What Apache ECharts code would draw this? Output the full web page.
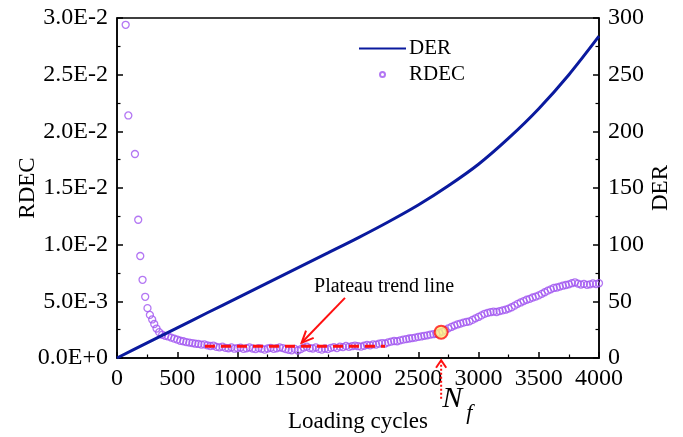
<!DOCTYPE html>
<html>
<head>
<meta charset="utf-8">
<script src="https://cdn.jsdelivr.net/npm/echarts@6/dist/echarts.min.js"></script>
<style>
html, body { margin: 0; padding: 0; background: #fff; }
#chart { width: 683px; height: 437px; }
</style>
</head>
<body>
<div id="chart"></div>
<script>
// Damage evolution rate (DER) curve, sampled along the loading history
const derCycles = [0, 250, 500, 750, 1000, 1250, 1500, 1750, 2000, 2250, 2500, 2750, 3000, 3250, 3500, 3750, 4000];
const derValues = [0, 13.3, 26.6, 39.9, 53.1, 66.3, 79.5, 92.7, 106, 120, 135, 152, 171, 194, 220, 250, 284];

// Rate of dissipated energy change (RDEC) measurements
const rdecCycles = [72, 94, 149, 176, 193, 212, 234, 253, 273, 292, 309, 328,
  350, 375, 400, 425, 450, 475, 500, 525, 550, 575, 600, 625, 650, 675, 700, 725,
  750, 775, 800, 825, 850, 875, 900, 925, 950, 975, 1000, 1025, 1050, 1075, 1100, 1125,
  1150, 1175, 1200, 1225, 1250, 1275, 1300, 1325, 1350, 1375, 1400, 1425, 1450, 1475,
  1500, 1525, 1550, 1575, 1600, 1625, 1650, 1675, 1700, 1725, 1750, 1775, 1800, 1825,
  1850, 1875, 1900, 1925, 1950, 1975, 2000, 2025, 2050, 2075, 2100, 2125, 2150, 2175,
  2200, 2225, 2250, 2275, 2300, 2325, 2350, 2375, 2400, 2425, 2450, 2475, 2500, 2525,
  2550, 2575, 2600, 2625, 2650, 2675, 2700, 2725, 2750, 2775, 2800, 2825, 2850, 2875,
  2900, 2925, 2950, 2975, 3000, 3025, 3050, 3075, 3100, 3125, 3150, 3175, 3200, 3225,
  3250, 3275, 3300, 3325, 3350, 3375, 3400, 3425, 3450, 3475, 3500, 3525, 3550, 3575,
  3600, 3625, 3650, 3675, 3700, 3725, 3750, 3775, 3800, 3825, 3850, 3875, 3900, 3925,
  3950, 3975, 4000];
const rdecValues = [0.0294, 0.0214, 0.0180, 0.0122, 0.0090, 0.0069, 0.0054, 0.0044, 0.0038, 0.0034, 0.0030, 0.0026,
  0.00228, 0.00205, 0.00196, 0.00190, 0.00180, 0.00171, 0.00163, 0.00152, 0.00148, 0.00140, 0.00136, 0.00132, 0.00126, 0.00124, 0.00118, 0.00120,
  0.00112, 0.00106, 0.00110, 0.00098, 0.00094, 0.00100, 0.00090, 0.00086, 0.00094, 0.00082, 0.00088, 0.00092, 0.00080, 0.00086, 0.00094, 0.00084,
  0.00078, 0.00088, 0.00082, 0.00074, 0.00084, 0.00090, 0.00080, 0.00086, 0.00094, 0.00088, 0.00078, 0.00072, 0.00068, 0.00080,
  0.00066, 0.00078, 0.00092, 0.00100, 0.00088, 0.00084, 0.00094, 0.00080, 0.00074, 0.00084, 0.00078, 0.00090, 0.00096, 0.00088,
  0.00100, 0.00096, 0.00106, 0.00098, 0.00104, 0.00110, 0.00104, 0.00100, 0.00108, 0.00116, 0.00112, 0.00120, 0.00118, 0.00126,
  0.00132, 0.00128, 0.00138, 0.00144, 0.00150, 0.00148, 0.00156, 0.00162, 0.00166, 0.00172, 0.00176, 0.00180, 0.00186, 0.00190,
  0.00196, 0.00200, 0.00206, 0.00210, 0.00214, 0.00222, 0.00232, 0.00246, 0.00262, 0.00274, 0.00286, 0.00296, 0.00304, 0.00312,
  0.00318, 0.00324, 0.00336, 0.00350, 0.00362, 0.00376, 0.00390, 0.00398, 0.00404, 0.00410, 0.00406, 0.00414, 0.00420, 0.00426,
  0.00436, 0.00448, 0.00462, 0.00478, 0.00490, 0.00502, 0.00514, 0.00522, 0.00534, 0.00542, 0.00552, 0.00566, 0.00580, 0.00594,
  0.00606, 0.00618, 0.00622, 0.00630, 0.00638, 0.00644, 0.00650, 0.00660, 0.00668, 0.00656, 0.00648, 0.00654, 0.00646, 0.00650,
  0.00658, 0.00652, 0.00660];

// Plateau trend line and the fatigue-life point N_f
const plateauCycles = [730, 2224];
const plateauLevels = [0.00104, 0.00104];
const failureCycle = 2690;
const failureRdec = 0.00228;

// Annotation anchors (data space)
const plateauArrowFrom = [1892, 0.00531];
const plateauArrowTo = [1532, 0.00134];
const plateauLabelAt = [2216, 0.00631];
const failureArrowFrom = -0.0036;
const failureArrowTo = -0.0002;

const FONT = '"Liberation Serif", "Times New Roman", serif';
const RED = '#ff1010';
const PURPLE = '#a055f0';
const NAVY = '#0a1a9e';

function sciLabel(v) {
  if (Math.abs(v) < 1e-12) return '0.0E+0';
  const e = Math.floor(Math.log10(Math.abs(v)) + 1e-9);
  const m = v / Math.pow(10, e);
  return m.toFixed(1) + 'E' + (e < 0 ? '-' : '+') + Math.abs(e);
}

const chart = echarts.init(document.getElementById('chart'), null, { renderer: 'canvas' });

const axisLine = { show: true, onZero: false, lineStyle: { color: '#000', width: 1.5 } };
const axisTick = { show: true, inside: true, length: 6, lineStyle: { color: '#000', width: 1.5 } };
const minorTick = { show: true, splitNumber: 2, length: 3.5, lineStyle: { color: '#000', width: 1.2 } };
const tickLabel = { color: '#000', fontFamily: FONT, fontSize: 24 };
const nameStyle = { color: '#000', fontFamily: FONT, fontSize: 23 };

chart.setOption({
  animation: false,
  backgroundColor: '#fff',
  grid: {
    left: 117, top: 18, right: 84, bottom: 79, containLabel: false, outerBoundsMode: 'none',
    show: true, borderColor: '#000', borderWidth: 1.5, backgroundColor: 'transparent'
  },
  legend: {
    orient: 'vertical', left: 353, top: 33,
    itemWidth: 47, itemHeight: 5, itemGap: 5,
    textStyle: { color: '#000', fontFamily: FONT, fontSize: 21, padding: [0, 0, 0, -2] },
    data: [{ name: 'DER', itemStyle: { opacity: 0 } }, 'RDEC']
  },
  xAxis: {
    type: 'value', min: 0, max: 4000, interval: 500,
    name: 'Loading cycles', nameLocation: 'middle', nameGap: 52, nameMoveOverlap: false, nameTextStyle: nameStyle,
    axisLine, axisTick, minorTick, splitLine: { show: false },
    axisLabel: Object.assign({ margin: 9, formatter: v => String(v) }, tickLabel)
  },
  yAxis: [
    {
      type: 'value', min: 0, max: 0.03, interval: 0.005, position: 'left',
      name: 'RDEC', nameLocation: 'middle', nameRotate: 90, nameGap: 78, nameMoveOverlap: false, nameTextStyle: nameStyle,
      axisLine, axisTick, minorTick, splitLine: { show: false },
      axisLabel: Object.assign({ margin: 9, formatter: sciLabel }, tickLabel)
    },
    {
      type: 'value', min: 0, max: 300, interval: 50, position: 'right',
      name: 'DER', nameLocation: 'middle', nameRotate: 90, nameGap: 50, nameMoveOverlap: false, nameTextStyle: nameStyle,
      axisLine, axisTick, minorTick, splitLine: { show: false },
      axisLabel: Object.assign({ margin: 9, formatter: v => String(v) }, tickLabel)
    }
  ],
  series: [
    {
      name: 'DER', type: 'line', yAxisIndex: 1, smooth: 0.3, symbol: 'none',
      lineStyle: { color: NAVY, width: 3 }, itemStyle: { color: NAVY },
      data: derCycles.map((c, i) => [c, derValues[i]]), z: 3
    },
    {
      name: 'RDEC', type: 'scatter', yAxisIndex: 0, symbol: 'circle', symbolSize: 7,
      itemStyle: { color: 'rgba(255,255,255,0)', borderColor: PURPLE, borderWidth: 1.3 },
      data: rdecCycles.map((c, i) => [c, rdecValues[i]]), z: 2
    },
    {
      name: 'Plateau', type: 'line', yAxisIndex: 0, symbol: 'none',
      lineStyle: { color: RED, width: 3, type: [10, 6] },
      data: plateauCycles.map((c, i) => [c, plateauLevels[i]]), z: 4
    },
    {
      name: 'Nf', type: 'scatter', yAxisIndex: 0, symbol: 'circle', symbolSize: 13,
      itemStyle: { color: '#fff27a', borderColor: RED, borderWidth: 2 },
      data: [[failureCycle, failureRdec]], z: 5
    }
  ]
});

// Annotations placed through the axes' own scales
function px(pt) { return chart.convertToPixel({ xAxisIndex: 0, yAxisIndex: 0 }, pt); }

function arrowHead(tip, from, len, spread) {
  const ang = Math.atan2(tip[1] - from[1], tip[0] - from[0]);
  const a1 = ang + Math.PI - spread, a2 = ang + Math.PI + spread;
  return [
    [tip[0] + len * Math.cos(a1), tip[1] + len * Math.sin(a1)],
    tip,
    [tip[0] + len * Math.cos(a2), tip[1] + len * Math.sin(a2)]
  ];
}

const pa = px(plateauArrowFrom), pb = px(plateauArrowTo);
const pl = px(plateauLabelAt);
const fa = px([failureCycle, failureArrowFrom]), fb = px([failureCycle, failureArrowTo]);

chart.setOption({
  graphic: [
    { type: 'line', shape: { x1: pa[0], y1: pa[1], x2: pb[0], y2: pb[1] }, style: { stroke: RED, lineWidth: 2 }, z: 10 },
    { type: 'polyline', shape: { points: arrowHead(pb, pa, 13, 0.42) }, style: { stroke: RED, lineWidth: 2, fill: null }, z: 10 },
    { type: 'text', x: pl[0], y: pl[1], style: { text: 'Plateau trend line', font: '20px ' + FONT, fill: '#000', align: 'center', verticalAlign: 'middle' }, z: 10 },
    { type: 'line', shape: { x1: fa[0], y1: fa[1], x2: fb[0], y2: fb[1] + 2 }, style: { stroke: RED, lineWidth: 2, lineDash: [2, 2] }, z: 10 },
    { type: 'polyline', shape: { points: arrowHead(fb, fa, 9, 0.6) }, style: { stroke: RED, lineWidth: 2, fill: null }, z: 10 },
    { type: 'text', x: fa[0] + 1, y: fa[1] + 0, style: { text: 'N', font: 'italic 30px ' + FONT, fill: '#000', align: 'left', verticalAlign: 'middle' }, z: 10 },
    { type: 'text', x: fa[0] + 25, y: fa[1] + 14, style: { text: 'f', font: 'italic 22px ' + FONT, fill: '#000', align: 'left', verticalAlign: 'middle' }, z: 10 }
  ]
});
</script>
</body>
</html>
